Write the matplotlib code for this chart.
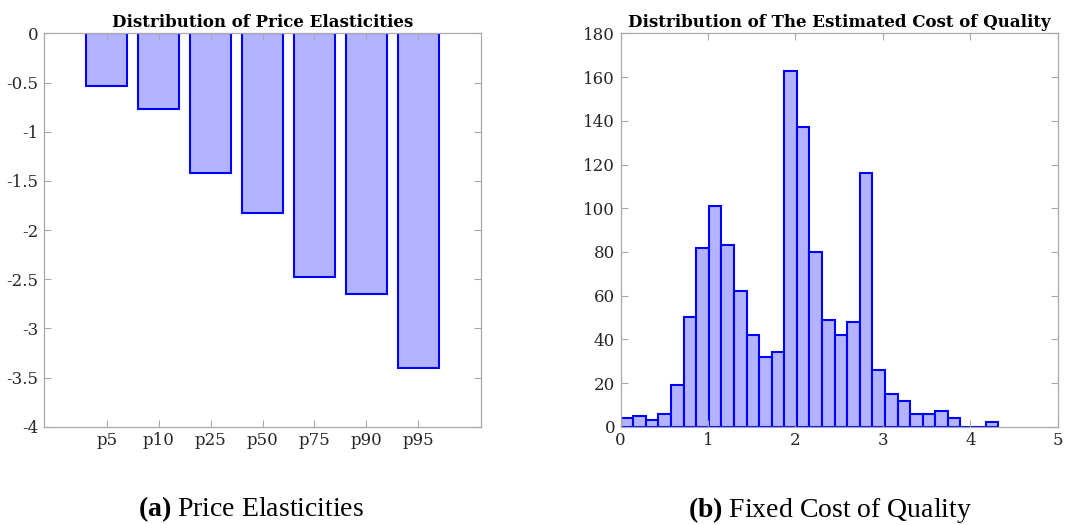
import numpy as np
import matplotlib
matplotlib.use('Agg')
from matplotlib import pyplot as plt
from matplotlib import ticker

# left panel: percentiles of price elasticities
pct_labels = ['p5', 'p10', 'p25', 'p50', 'p75', 'p90', 'p95']
elasticities = [-0.53, -0.77, -1.42, -1.83, -2.48, -2.65, -3.40]

# right panel: histogram of estimated fixed cost of quality
bin_lo = 0.0
bin_hi = 4.32
counts = [4, 5, 3, 6, 19, 50, 82, 101, 83, 62, 42, 32, 34, 163, 137,
          80, 49, 42, 48, 116, 26, 15, 12, 6, 6, 7, 4, 0, 0, 2]

face = '#b3b3ff'
edge = '#0000ff'
txt = '#262626'
spine = '#a8a8a8'

plt.rcParams['font.family'] = ['DejaVu Serif']
plt.rcParams['mathtext.fontset'] = 'custom'
plt.rcParams['mathtext.rm'] = 'Liberation Serif'
plt.rcParams['mathtext.bf'] = 'Liberation Serif:bold'

fig = plt.figure(figsize=(10.65, 5.25), dpi=100)
ax1 = fig.add_axes([0.0416, 0.1872, 0.4098, 0.749])
ax2 = fig.add_axes([0.5828, 0.1872, 0.4103, 0.749])


def style(ax):
    for s in ax.spines.values():
        s.set_color(spine)
        s.set_linewidth(0.9)
    ax.tick_params(direction='in', length=5, width=0.8, color=spine,
                   top=True, right=True, labelsize=12, labelcolor=txt, pad=4)


x = np.arange(1, len(pct_labels) + 1)
ax1.bar(x, elasticities, width=0.8, color=face, edgecolor=edge, linewidth=1.5)
ax1.set_xlim(-0.2, 8.2)
ax1.set_ylim(-4, 0)
ax1.set_xticks(x)
ax1.set_xticklabels(pct_labels)
ax1.set_yticks(np.arange(-4, 0.01, 0.5))
ax1.yaxis.set_major_formatter(ticker.FuncFormatter(lambda v, p: '%g' % v))
ax1.set_title('Distribution of Price Elasticities', fontsize=12,
              fontweight='bold', pad=5)
style(ax1)

edges = np.linspace(bin_lo, bin_hi, len(counts) + 1)
ax2.bar(edges[:-1], counts, width=np.diff(edges), align='edge',
        color=face, edgecolor=edge, linewidth=1.5)
ax2.set_xlim(0, 5)
ax2.set_ylim(0, 180)
ax2.set_yticks(np.arange(0, 181, 20))
ax2.set_title('Distribution of The Estimated Cost of Quality', fontsize=12,
              fontweight='bold', pad=5)
style(ax2)

fig.text(0.236, 0.016, r'$\mathbf{(a)}$ Price Elasticities', ha='center',
         fontsize=20, family='Liberation Serif')
fig.text(0.779, 0.016, r'$\mathbf{(b)}$ Fixed Cost of Quality', ha='center',
         fontsize=20, family='Liberation Serif')

fig.savefig('out.png', dpi=100)
